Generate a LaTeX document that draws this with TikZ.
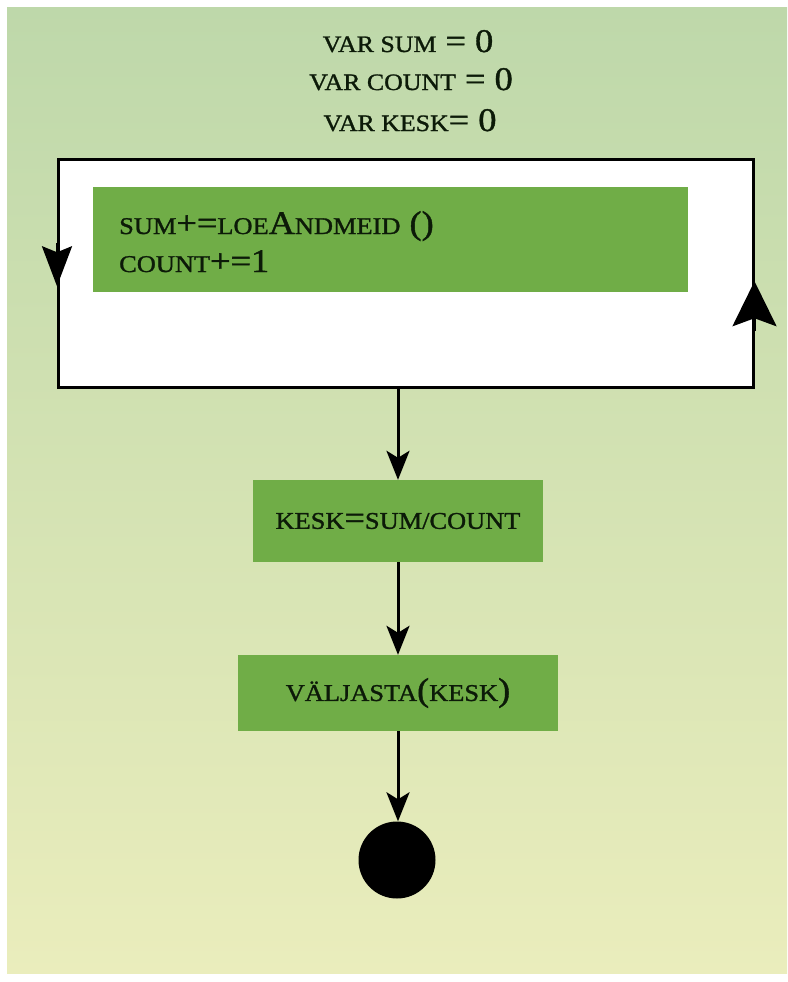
\documentclass[tikz,border=0pt]{standalone}
\usepackage{fontspec}
\setmainfont{Liberation Serif}[FakeStretch=1.1,FakeBold=1.2]
\usetikzlibrary{arrows.meta}
\definecolor{boxgreen}{RGB}{112,173,71}
\definecolor{bgtop}{RGB}{190,216,170}
\definecolor{bgbot}{RGB}{234,237,188}
\definecolor{ink}{RGB}{12,26,8}
\newcommand\SmC[1]{{\fontsize{24}{26}\selectfont #1}}
\newcommand\SmT[1]{{\fontsize{23.5}{26}\selectfont #1}}
\newcommand\LgC[1]{{\fontsize{33}{35}\selectfont #1}}
\begin{document}
\begin{tikzpicture}[x=1pt,y=-1pt,
  flowbox/.style={fill=boxgreen, draw=none, inner sep=0pt, text=ink},
  txt/.style={inner sep=0pt, text=ink},
  flowarrow/.style={line width=3pt, -{Stealth[length=29pt,width=23pt,inset=7pt]}},
  looptipL/.style={line width=2.5pt, -{Stealth[length=40pt,width=30pt,inset=6pt]}},
  looptipR/.style={line width=2.5pt, -{Stealth[length=45pt,width=44pt,inset=8pt]}}]
\useasboundingbox (0,0) rectangle (787,982);
\fill[white] (0,0) rectangle (787,982);
\shade[top color=bgtop, bottom color=bgbot] (7,8) rectangle (787,973);
% initial declarations
\node[txt, anchor=base] (v1) at (408,52) {\SmT{VAR SUM}\LgC{ = 0}};
\node[txt, anchor=base] (v2) at (411,90) {\SmT{VAR COUNT}\LgC{ = 0}};
\node[txt, anchor=base] (v3) at (410,131) {\SmT{VAR KESK}\LgC{= 0}};
% loop box
\node[draw=black, line width=2.5pt, fill=white, minimum width=695pt, minimum height=228pt, inner sep=0pt, anchor=north west] (loop) at (57,158) {};
\node[fill=boxgreen, minimum width=595pt, minimum height=105pt, inner sep=0pt, anchor=north west] (body) at (93,187) {};
\node[txt, anchor=base west] (l1) at (119,234) {\SmC{SUM}\LgC{+=}\SmC{LOE}\LgC{A}\SmC{NDMEID}\LgC{ ()}};
\node[txt, anchor=base west] (l2) at (119,272) {\SmC{COUNT}\LgC{+=1}};
\draw[looptipL] ([yshift=30pt]loop.west) -- ([yshift=-13pt]loop.west);
\draw[looptipR] ([yshift=-58pt]loop.east) -- ([yshift=-8pt]loop.east);
% flow
\node[flowbox, minimum width=290pt, minimum height=82pt] (kesk) at (398,521) {\SmC{KESK}\LgC{=}\SmC{SUM/COUNT}};
\node[flowbox, minimum width=320pt, minimum height=76pt] (out) at (398,693) {\SmC{VÄLJASTA}\LgC{(}\SmC{KESK}\LgC{)}};
\node[circle, fill=black, minimum size=77pt, inner sep=0pt] (end) at (397,860) {};
\draw[flowarrow] (loop.south -| kesk.north) -- (kesk.north);
\draw[flowarrow] (kesk.south) -- (out.north);
\draw[flowarrow] (out.south) -- (end.north -| out.south);
\end{tikzpicture}
\end{document}
